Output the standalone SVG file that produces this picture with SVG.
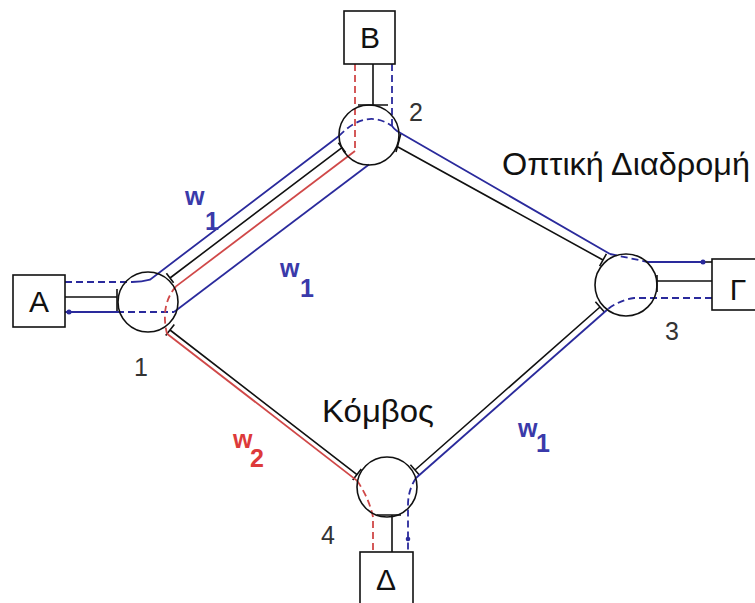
<svg xmlns="http://www.w3.org/2000/svg" width="755" height="603" viewBox="0 0 755 603">
<style>
.fib{stroke:#111;stroke-width:1.6;fill:none}
.blu{stroke:#2a2a9c;stroke-width:1.8;fill:none}
.red{stroke:#d04848;stroke-width:1.8;fill:none}
.dash{stroke-dasharray:7 4}
.node{fill:none;stroke:#111;stroke-width:1.6}
.box{fill:#fff;stroke:#111;stroke-width:1.6}
.t{font-family:"Liberation Sans",Arial,sans-serif;fill:#111}
.num{font-family:"Liberation Sans",Arial,sans-serif;fill:#333;font-size:25px;text-anchor:middle}
.wb{font-family:"Liberation Sans",Arial,sans-serif;fill:#3a3aaa;font-size:25px;font-weight:bold}
.wr{font-family:"Liberation Sans",Arial,sans-serif;fill:#dd3a3a;font-size:25px;font-weight:bold}
.bl{font-size:30px;text-anchor:middle}
</style>
<rect width="755" height="603" fill="#fff"/>

<g id="connectors">
  <!-- fibers (black) -->
  <path class="fib" d="M65,297 H117 M117,289 V313"/>
  <path class="fib" d="M373,64 V105 M358,105 H388"/>
  <path class="fib" d="M712,281 H657 M657,275 V292"/>
  <path class="fib" d="M392,552 V515 M377,515 H401"/>
  <path class="fib" d="M170,278 L342,147.6 M166.4,273.2 L173.6,282.8 M338.4,142.8 L345.6,152.4"/>
  <path class="fib" d="M398,147 L603,260 M401,133 L396,152 M606.4,253.9 L599.6,266.1"/>
  <path class="fib" d="M600,307 L415,470 M595.4,301.7 L604.6,312.3 M410.4,464.7 L419.6,475.3"/>
  <path class="fib" d="M170,330 L357,474.6 M174.3,324.5 L165.7,335.5 M361.3,469.1 L352.7,480.1"/>
  <path class="fib" d="M703,262 H712"/>

  <!-- lightpath w1: A - 2 (top) -->
  <path class="blu dash" d="M65,282 H132"/>
  <path class="blu" d="M132,282 Q142,282 150,279.6 L339,136"/>
  <path class="blu dash" d="M339,136 Q366,108 392,126"/>
  <path class="blu dash" d="M392,64 V126"/>
  <path class="blu" d="M392,126 Q394,129 397,131 L610,254"/>
  <path class="blu dash" d="M610,254 L648,262"/>
  <path class="blu" d="M648,262 H703"/>
  <circle cx="703" cy="262" r="2.5" fill="#2a2a9c"/>

  <!-- lightpath w1: A - 2 (bottom) -->
  <path class="blu" d="M65,312 H117"/>
  <circle cx="69" cy="312" r="2.5" fill="#2a2a9c"/>
  <path class="blu dash" d="M117,312 H174"/>
  <path class="blu" d="M174,312 L369,164.5"/>

  <!-- lightpath w1: Γ - Δ -->
  <path class="blu dash" d="M712,298 H634 Q620,300 608,309"/>
  <path class="blu" d="M608,309 L416,478"/>
  <path class="blu dash" d="M416,478 Q408,490 408,505 V552"/>
  <circle cx="408" cy="539" r="2.3" fill="#2a2a9c"/>

  <!-- lightpath w2: B - Δ -->
  <path class="red dash" d="M355,64 V151"/>
  <path class="red" d="M355,151 L176,286.4"/>
  <path class="red dash" d="M176,286.4 Q160,305 167,333.7"/>
  <path class="red" d="M167,333.7 L357,480.6"/>
  <path class="red dash" d="M357,480.6 Q369,498 373,517 V552"/>
</g>

<g id="node1"><circle class="node" cx="148" cy="302" r="30"/><text class="num" x="141" y="376">1</text></g>
<g id="node2"><circle class="node" cx="369" cy="135" r="30"/><text class="num" x="416" y="121">2</text></g>
<g id="node3"><circle class="node" cx="626" cy="285" r="31"/><text class="num" x="672" y="340">3</text></g>
<g id="node4"><circle class="node" cx="387" cy="487" r="30"/><text class="num" x="328" y="544">4</text></g>

<g id="A"><rect class="box" x="13" y="275" width="52" height="52"/><text class="t bl" x="39" y="312">A</text></g>
<g id="B"><rect class="box" x="344" y="11" width="51" height="53"/><text class="t bl" x="370" y="48">B</text></g>
<g id="G"><rect class="box" x="712" y="259" width="52" height="51"/><text class="t bl" x="738" y="300">Γ</text></g>
<g id="D"><rect class="box" x="360" y="552" width="53" height="60"/><text class="t bl" x="386" y="590">Δ</text></g>

<g id="labels">
  <text class="t" x="502" y="175" font-size="31" textLength="248" lengthAdjust="spacingAndGlyphs">Οπτική Διαδρομή</text>
  <text class="t" x="322" y="422" font-size="31" textLength="112" lengthAdjust="spacingAndGlyphs">Κόμβος</text>
  <text class="wb" x="185" y="205">w</text><text class="wb" x="205" y="230">1</text>
  <text class="wb" x="280" y="277">w</text><text class="wb" x="300" y="297">1</text>
  <text class="wb" x="518" y="437">w</text><text class="wb" x="536" y="452">1</text>
  <text class="wr" x="233" y="448">w</text><text class="wr" x="250" y="467">2</text>
</g>
</svg>
